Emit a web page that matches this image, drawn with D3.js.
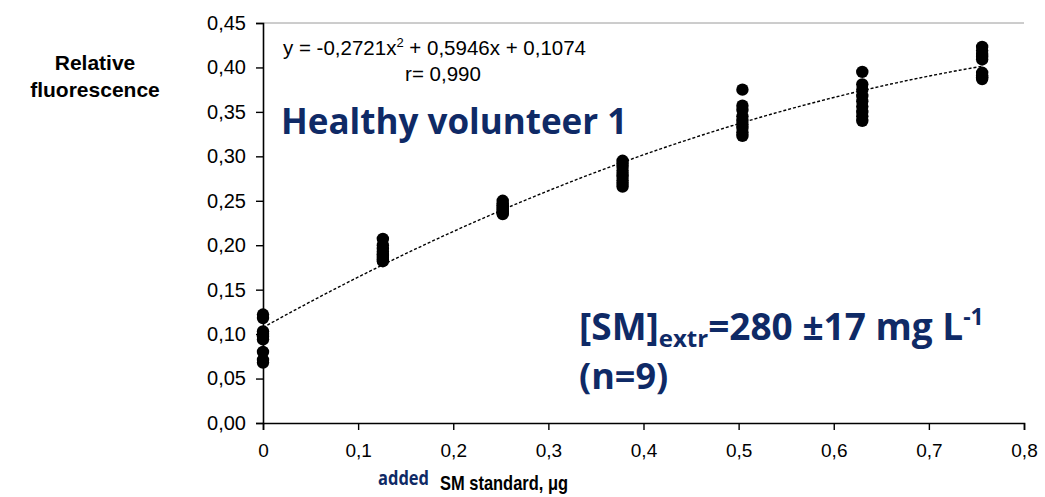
<!DOCTYPE html>
<html>
<head>
<meta charset="utf-8">
<script src="https://cdn.jsdelivr.net/npm/d3@7"></script>
<style>
  body { margin:0; background:#fff; }
  svg text { font-family: "Liberation Sans", Arial, sans-serif; }
</style>
</head>
<body>
<svg id="chart" width="1045" height="497"></svg>
<script>
// added SM standard (ug) for each group of replicates
var doses = [0, 0.126, 0.252, 0.378, 0.504, 0.63, 0.756];
// relative fluorescence, 9 replicates per dose
var reps = [
  [0.122, 0.118, 0.103, 0.100, 0.097, 0.094, 0.080, 0.071, 0.068],
  [0.207, 0.200, 0.196, 0.193, 0.190, 0.188, 0.186, 0.184, 0.182],
  [0.250, 0.247, 0.245, 0.243, 0.241, 0.240, 0.238, 0.236, 0.235],
  [0.295, 0.292, 0.288, 0.284, 0.280, 0.277, 0.273, 0.269, 0.266],
  [0.375, 0.357, 0.352, 0.345, 0.340, 0.336, 0.332, 0.327, 0.323],
  [0.395, 0.381, 0.375, 0.368, 0.362, 0.356, 0.350, 0.345, 0.340],
  [0.423, 0.419, 0.415, 0.412, 0.409, 0.394, 0.391, 0.389, 0.387]
];
// trendline coefficients as printed on the chart (c0 + c1 x + c2 x^2)
var trendCoef = [0.1074, 0.5946, -0.2721];
var xTicks = [0, 0.1, 0.2, 0.3, 0.4, 0.5, 0.6, 0.7, 0.8];
var yTicks = [0, 0.05, 0.10, 0.15, 0.20, 0.25, 0.30, 0.35, 0.40, 0.45];

var navy = "#0f2a66";
var svg = d3.select("#chart");
var x = d3.scaleLinear().domain([0, 0.8]).range([263, 1024]);
var y = d3.scaleLinear().domain([0, 0.45]).range([423, 23]);

var fmtY = function(d){ return d3.format(".2f")(d).replace(".", ","); };
var fmtX = function(d){ return d === 0 ? "0" : d3.format(".1f")(d).replace(".", ","); };

// top border of plot area
svg.append("line")
  .attr("x1", x(0)).attr("x2", x(0.8))
  .attr("y1", y(0.45)).attr("y2", y(0.45))
  .attr("stroke", "#9a9a9a").attr("stroke-width", 1);

// axes
var yAxis = svg.append("g")
  .attr("transform", "translate(" + x(0) + ",0)")
  .call(d3.axisLeft(y).tickValues(yTicks).tickFormat(fmtY).tickSize(7).tickPadding(10));
var xAxis = svg.append("g")
  .attr("transform", "translate(0," + y(0) + ")")
  .call(d3.axisBottom(x).tickValues(xTicks).tickFormat(fmtX).tickSize(7).tickPadding(14));
[yAxis, xAxis].forEach(function(a){
  a.select(".domain").attr("stroke", "#000").attr("stroke-width", 1.6);
  a.selectAll(".tick line").attr("stroke", "#000").attr("stroke-width", 1.4);
  a.selectAll(".tick text").attr("fill", "#000")
    .style("font-family", "'Liberation Sans', Arial, sans-serif");
});
yAxis.selectAll(".tick text").style("font-size", "20px");
xAxis.selectAll(".tick text").style("font-size", "19px");

// trendline (dotted)
var xs = d3.range(0, doses[doses.length - 1] + 0.0001, 0.006);
var curve = d3.line()
  .x(function(d){ return x(d); })
  .y(function(d){ return y(trendCoef[0] + trendCoef[1] * d + trendCoef[2] * d * d); });
svg.append("path")
  .datum(xs)
  .attr("d", curve)
  .attr("fill", "none")
  .attr("stroke", "#000")
  .attr("stroke-width", 1.4)
  .attr("stroke-dasharray", "3,2");

// replicate points
var pts = [];
doses.forEach(function(d, i){
  reps[i].forEach(function(v){ pts.push({x: d, y: v}); });
});
svg.append("g").selectAll("circle")
  .data(pts).enter().append("circle")
  .attr("cx", function(d){ return x(d.x); })
  .attr("cy", function(d){ return y(d.y); })
  .attr("r", 6.2)
  .attr("fill", "#000");

// y axis title
var yt = svg.append("text")
  .attr("text-anchor", "middle")
  .style("font-size", "21px").style("font-weight", "bold").attr("fill", "#000");
yt.append("tspan").attr("x", 95).attr("y", 70).text("Relative");
yt.append("tspan").attr("x", 95).attr("y", 97).text("fluorescence");

// equation
svg.append("text")
  .attr("x", 283).attr("y", 55)
  .style("font-size", "20.5px").attr("fill", "#000")
  .html("y = -0,2721x<tspan dy='-8' font-size='13px'>2</tspan><tspan dy='8'> + 0,5946x + 0,1074</tspan>");
svg.append("text")
  .attr("x", 443).attr("y", 81).attr("text-anchor", "middle")
  .style("font-size", "20.5px").attr("fill", "#000")
  .text("r= 0,990");

// big labels
svg.append("text")
  .attr("x", 281).attr("y", 134)
  .style("font-family", "'Open Sans', sans-serif")
  .style("font-size", "35px").style("font-weight", "bold")
  .attr("fill", navy)
  .text("Healthy volunteer 1");

var res = svg.append("text")
  .attr("x", 579).attr("y", 340)
  .style("font-family", "'Open Sans', sans-serif")
  .style("font-size", "37px").style("font-weight", "bold")
  .attr("fill", navy);
res.append("tspan").text("[SM]");
res.append("tspan").attr("dy", 7).style("font-size", "24px").text("extr");
res.append("tspan").attr("dy", -7).text("=280 \u00b117 mg L");
res.append("tspan").attr("dy", -15).style("font-size", "23px").text("-1");
svg.append("text")
  .attr("x", 579).attr("y", 389)
  .style("font-family", "'Open Sans', sans-serif")
  .style("font-size", "36px").style("font-weight", "bold")
  .attr("fill", navy)
  .text("(n=9)");

// x axis title
svg.append("text")
  .attr("x", 378).attr("y", 485)
  .attr("textLength", 51).attr("lengthAdjust", "spacingAndGlyphs")
  .style("font-family", "'Open Sans', sans-serif")
  .style("font-size", "20px").style("font-weight", "bold")
  .attr("fill", navy)
  .text("added");
svg.append("text")
  .attr("x", 440).attr("y", 490)
  .attr("textLength", 128).attr("lengthAdjust", "spacingAndGlyphs")
  .style("font-size", "21px").style("font-weight", "bold")
  .attr("fill", "#000")
  .text("SM standard, \u03bcg");
</script>
</body>
</html>
